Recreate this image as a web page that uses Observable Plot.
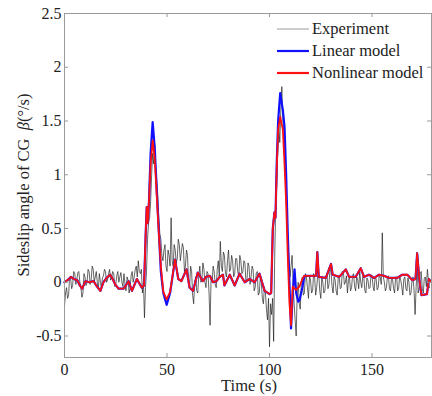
<!DOCTYPE html>
<html><head><meta charset="utf-8">
<script src="https://cdn.jsdelivr.net/npm/d3@7"></script>
<script src="https://cdn.jsdelivr.net/npm/@observablehq/plot@0.6"></script>
<style>
body{margin:0;background:#fff;}
#wrap{position:relative;width:432px;height:396px;font-family:"Liberation Serif","Times New Roman",serif;color:#222;}
.row{position:absolute;left:277px;height:20px;display:flex;align-items:center;font-size:16.5px;white-space:nowrap;}
.row svg{margin-right:3px;}
#ylab{position:absolute;left:24px;top:185px;transform:translate(-50%,-50%) rotate(-90deg);font-size:16.5px;white-space:nowrap;}
#xlab{position:absolute;left:249px;top:386px;transform:translate(-50%,-50%);font-size:16.5px;white-space:nowrap;}
</style></head><body><div id="wrap"></div>
<script>
// ---- data ----
const xTicks = [0, 50, 100, 150];
const yTicks = [-0.5, 0, 0.5, 1, 1.5, 2, 2.5];
const seriesNames = ["Experiment", "Linear model", "Nonlinear model"];

// Experiment, sampled every 0.5 s from t = 0
const experiment = [
 -0.22,-0.10, -0.05,-0.15, -0.12,0.05, 0.03,-0.06, -0.02,0.10, 0.08,-0.02, 0.02,0.09, 0.10,0.00, -0.05,-0.14, -0.10,0.08,
 0.05,-0.03, 0.00,0.12, 0.10,-0.02, 0.02,0.15, 0.12,0.00, 0.05,0.10, 0.00,-0.06, 0.08,0.00, -0.05,0.04, 0.06,0.12,
 0.10,0.00, 0.02,0.08, 0.12,0.02, 0.04,0.10, 0.08,-0.04, -0.02,0.06, 0.10,0.00, 0.05,0.09, 0.00,-0.04, 0.08,-0.02,
 -0.08,0.05, 0.02,-0.10, -0.05,0.06, 0.10,0.00, 0.05,0.12, 0.15,0.05, 0.20,0.10, 0.08,0.12, -0.10,0.00, -0.33,-0.05,
 0.10,0.40, 0.55,0.60, 0.75,1.00, 1.20,1.10, 1.28,1.05, 0.95,0.80, 0.60,0.45, 0.40,0.25, 0.20,0.30, 0.35,0.15,
 0.10,0.30, 0.25,0.15, 0.60,0.20, 0.15,0.35, 0.30,0.18, 0.22,0.40, 0.35,0.20, 0.28,0.36, 0.32,0.10, 0.15,0.30,
 0.25,0.00, -0.05,0.15, 0.10,-0.12, -0.20,0.00, 0.05,-0.08, -0.10,0.06, 0.15,0.00, 0.02,0.18, 0.12,0.00, -0.05,0.10,
 0.08,-0.10, -0.40,0.05, 0.00,0.15, 0.10,-0.02, -0.05,0.12, 0.20,0.05, 0.38,0.15, 0.10,0.28, 0.25,0.08, 0.05,0.20,
 0.30,0.10, 0.12,0.25, 0.20,0.05, 0.08,0.22, 0.22,0.10, 0.05,0.25, 0.20,0.08, 0.10,0.20, 0.18,0.00, 0.02,0.18,
 0.15,-0.02, 0.05,0.15, 0.12,-0.08, -0.05,0.08, 0.10,-0.12, -0.10,0.05, 0.00,-0.15, -0.20,-0.05, -0.10,-0.25, -0.35,-0.15,
 -0.60,-0.20, -0.30,-0.15, -0.55,0.20, 0.70,0.90, 1.20,1.45, 1.30,1.60, 1.82,1.50, 1.40,1.10, 0.80,0.60, 0.40,0.20,
 0.05,0.15, 0.25,0.00, -0.20,-0.35, -0.50,-0.10, 0.00,-0.20, -0.25,0.00, 0.05,-0.12, -0.10,0.08, 0.05,-0.05, -0.15,0.06,
 0.02,-0.10, -0.08,0.08, 0.05,-0.12, -0.05,0.06, 0.08,-0.08, -0.15,0.05, 0.00,-0.10, -0.08,0.06, 0.08,-0.06, -0.02,0.12,
 0.10,-0.04, -0.10,0.05, 0.02,-0.08, -0.12,0.04, 0.05,-0.06, -0.05,0.10, 0.10,-0.02, 0.00,0.06, -0.10,0.02, 0.05,-0.08,
 -0.05,0.06, 0.08,-0.04, -0.08,0.05, 0.02,-0.06, 0.10,0.00, -0.05,0.06, 0.05,-0.08, -0.10,0.04, 0.02,-0.06, -0.05,0.07,
 0.06,-0.04, -0.08,0.05, 0.03,-0.07, -0.05,0.06, 0.05,-0.02, 0.46,0.05, 0.00,-0.08, -0.05,0.05, 0.06,-0.06, -0.08,0.04,
 0.03,-0.06, -0.10,0.05, 0.05,-0.08, -0.05,0.06, 0.02,-0.04, -0.12,0.03, 0.05,-0.06, -0.08,0.04, 0.00,-0.12, -0.10,0.02,
 0.05,-0.08, -0.30,-0.05, 0.15,-0.10, -0.05,0.08, 0.10,-0.06, -0.10,0.04, 0.05,-0.04, 0.12,0.02, -0.05
];

const modelTime = [
 0,1.5,3.2,4.5,6.2,7.5,8.6,10.2,12,14.2,15.5,17.5,19,20.5,22.3,23.5,24.7,26.4,28.8,31.3,
 32.9,35.3,37.7,38.8,39.6,40.1,40.6,41.2,42,43,44,45,45.8,47,48.2,49.8,51.5,53.9,55.5,57,
 59.5,61,62.7,65,67.5,69,70.9,72.5,74.1,75.7,77.3,78,80.6,83,85.4,87.9,90.3,92.7,95.1,97.6,
 100,100.8,101.6,102.4,102.9,103.5,104.2,105.2,106.5,107.3,108.1,108.9,109.7,110.5,111.3,112.2,113,114,114.6,116,
 117,120,122.7,123.3,124,127.5,129,130,130.8,134,137.2,138.8,142,144.5,146.1,148.5,151,153.4,155.8,158.3,
 162.3,164.7,167.2,169.6,171.2,172,173.1,174.1,176.8,177.7,179
];
const nonlinear = [
 0,0.02,0.05,0.03,0.02,-0.03,-0.06,0.01,0.00,0.01,-0.03,-0.08,0.00,0.04,0.07,0.03,-0.02,-0.06,-0.06,0.01,
 -0.08,0.03,-0.05,-0.03,0.45,0.70,0.55,0.75,1.10,1.32,1.15,0.80,0.52,0.15,-0.09,-0.16,-0.09,0.21,0.03,0.01,
 0.12,-0.05,-0.08,0.09,0.01,0.05,0.06,0.00,0.01,0.05,0.07,-0.03,0.07,-0.03,0.08,0.00,0.03,0.00,0.08,-0.08,
 -0.11,-0.10,0.50,0.65,0.60,1.05,1.42,1.54,1.42,1.10,0.74,0.24,-0.19,-0.40,-0.04,-0.06,-0.07,-0.05,-0.04,0.03,
 0.06,0.06,0.06,0.28,0.05,0.04,0.12,0.17,0.07,0.05,0.12,0.05,0.05,0.13,0.05,0.07,0.04,0.07,0.06,0.04,
 0.04,0.07,0.07,0.02,0.03,0.27,0.02,-0.12,-0.11,0.03,0.00
];
const linear = [
 0,0.02,0.05,0.03,0.02,-0.03,-0.06,0.01,0.00,0.01,-0.03,-0.08,0.00,0.04,0.07,0.03,-0.02,-0.06,-0.06,0.01,
 -0.08,0.03,-0.05,-0.03,0.45,0.70,0.55,0.75,1.20,1.49,1.25,0.85,0.55,0.10,-0.10,-0.21,-0.10,0.21,0.03,0.01,
 0.12,-0.05,-0.08,0.09,0.01,0.05,0.06,0.00,0.01,0.05,0.07,-0.03,0.07,-0.03,0.08,0.00,0.03,0.00,0.08,-0.08,
 -0.11,-0.10,0.50,0.65,0.60,1.10,1.50,1.76,1.60,1.45,1.00,0.45,0.00,-0.43,-0.10,0.12,-0.10,-0.18,-0.17,-0.05,
 0.06,0.06,0.06,0.28,0.05,0.04,0.12,0.17,0.07,0.05,0.12,0.05,0.05,0.13,0.05,0.07,0.04,0.07,0.06,0.04,
 0.04,0.07,0.07,0.02,0.03,0.27,0.02,-0.12,-0.11,0.03,0.00
];
const colors = ["#1e1e1e", "#1010ff", "#ff1010"];

// ---- tables ----
const expData = experiment.map((v, i) => ({t: i * 0.5, v}));
const modelData = modelTime.map((t, i) => ({t, nl: nonlinear[i], lin: linear[i]}));

const W = 432, H = 396, mL = 64, mR = 1, mT = 13, mB = 39;
const innerW = W - mL - mR, innerH = H - mT - mB, tk = 4;

const chart = Plot.plot({
  width: W, height: H,
  marginLeft: mL, marginRight: mR, marginTop: mT, marginBottom: mB,
  style: {fontFamily: '"Liberation Serif","Times New Roman",serif', fontSize: "16px", color: "#222", background: "#fff"},
  x: {domain: [0, 179], label: null},
  y: {domain: [-0.7, 2.5], label: null},
  marks: [
    Plot.line(expData, {x: "t", y: "v", stroke: colors[0], strokeWidth: 0.8, strokeOpacity: 0.85}),
    Plot.line(modelData, {x: "t", y: "lin", stroke: colors[1], strokeWidth: 2.2}),
    Plot.line(modelData, {x: "t", y: "nl", stroke: colors[2], strokeWidth: 1.8}),
    Plot.frame({stroke: "#9a9a9a"}),
    Plot.tickX(xTicks, {x: d => d, insetTop: innerH - tk, stroke: "#9a9a9a"}),
    Plot.tickX(xTicks, {x: d => d, insetBottom: innerH - tk, stroke: "#9a9a9a"}),
    Plot.tickY(yTicks, {y: d => d, insetRight: innerW - tk, stroke: "#9a9a9a"}),
    Plot.tickY(yTicks, {y: d => d, insetLeft: innerW - tk, stroke: "#9a9a9a"}),
    Plot.axisX(xTicks, {tickSize: 0, tickPadding: 6, tickFormat: d => String(d), label: null}),
    Plot.axisY(yTicks, {tickSize: 0, tickPadding: 3, tickFormat: d => String(d), label: null})
  ]
});
const wrap = document.getElementById("wrap");
wrap.appendChild(chart);

// axis titles
const yl = document.createElement("div");
yl.id = "ylab";
yl.innerHTML = 'Sideslip angle of CG&nbsp;&nbsp;<i>β</i>(°/s)';
wrap.appendChild(yl);
const xl = document.createElement("div");
xl.id = "xlab";
xl.textContent = "Time (s)";
wrap.appendChild(xl);

// legend
const rowsTop = [19, 41, 63];
seriesNames.forEach((name, i) => {
  const r = document.createElement("div");
  r.className = "row";
  r.style.top = rowsTop[i] + "px";
  const sw = i === 0 ? 1 : 2.2;
  const col = i === 0 ? "#9a9a9a" : colors[i];
  r.innerHTML = `<svg width="32" height="6"><line x1="0" x2="32" y1="3" y2="3" stroke="${col}" stroke-width="${sw}"/></svg><span>${name}</span>`;
  wrap.appendChild(r);
});
</script>
</body></html>
